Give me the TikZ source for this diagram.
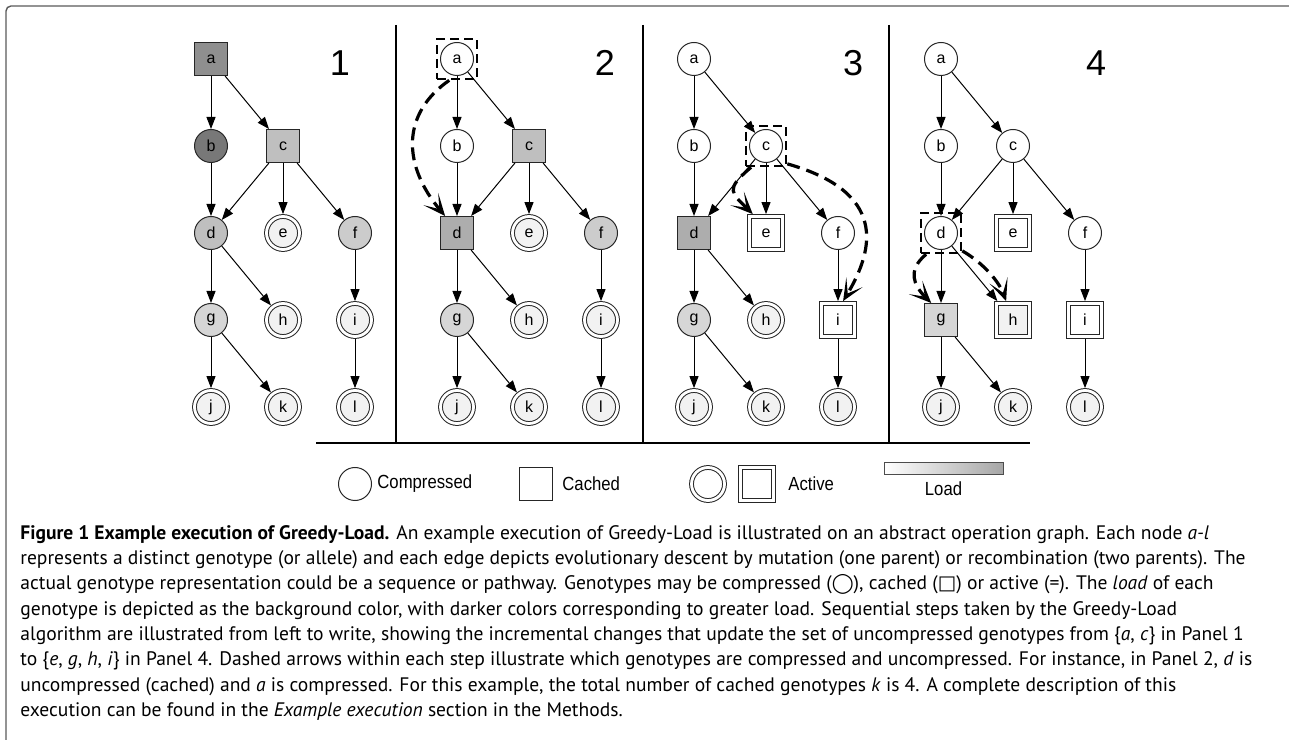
\documentclass[tikz,border=0pt]{standalone}
\usepackage{fontspec}
\setmainfont{PT Sans}
\newfontfamily\helv{Liberation Sans}
\newfontfamily\helvn[FakeStretch=0.88]{Liberation Sans}
\newfontfamily\symf{DejaVu Sans}
\usetikzlibrary{arrows.meta, positioning, calc}
\definecolor{ld1}{gray}{0.47}
\definecolor{ld2}{gray}{0.56}
\definecolor{ld3}{gray}{0.68}
\definecolor{ld4}{gray}{0.75}
\definecolor{ld5}{gray}{0.80}
\definecolor{ld6}{gray}{0.84}
\definecolor{ld7}{gray}{0.95}
\definecolor{framegray}{gray}{0.35}
\tikzset{
  nd/.style={draw=black!85, line width=0.5pt, inner sep=0pt, minimum size=16.5pt, font=\helv\fontsize{8}{9}\selectfont},
  comp/.style={nd, circle, fill=#1}, comp/.default=white,
  cach/.style={nd, rectangle, fill=#1}, cach/.default=white,
  actc/.style={comp=#1, double=white, double distance=1.4pt, outer sep=1.2pt}, actc/.default=ld7,
  acts/.style={cach=#1, double=white, double distance=1.4pt, outer sep=1.2pt}, acts/.default=white,
  link/.style={-{Triangle[length=6pt, width=4.5pt]}, line width=0.5pt},
  sel/.style={draw, dash pattern=on 4.5pt off 2.5pt, line width=1.3pt, minimum size=20pt, inner sep=0pt},
  move/.style={-{Stealth[length=11pt, width=9.5pt, inset=6.5pt]}, dash pattern=on 6.5pt off 3.5pt, line width=1.6pt},
  num/.style={font=\helv\fontsize{18}{20}\selectfont},
  lab/.style={font=\helvn\fontsize{9.5}{11}\selectfont, inner sep=0pt},
}

\begin{document}
\begin{tikzpicture}[x=0.5pt, y=0.5pt, node distance=43.5pt and 36pt, on grid]
  \useasboundingbox (0,0) rectangle (1289,739);
  \draw[framegray, line width=0.7pt, rounded corners=2.5pt] (6,-10) |- (1300,733);

  % panel rules
  \foreach \x in {396,643,889}
    \draw[line width=1pt] (\x,714) -- (\x,296);
  \draw[line width=1.4pt] (316,296) -- (1030,296);

  % panel 1
  \node[cach=ld2] (a1) at (211,680) {a};
  \node[comp=ld1, below=of a1] (b1) {b};
  \node[cach=ld4, right=of b1] (c1) {c};
  \node[comp=ld4, below=of b1] (d1) {d};
  \node[actc, right=of d1] (e1) {e};
  \node[comp=ld5, right=of e1] (f1) {f};
  \node[comp=ld6, below=of d1] (g1) {g};
  \node[actc, right=of g1] (h1) {h};
  \node[actc, right=of h1] (i1) {i};
  \node[actc, below=of g1] (j1) {j};
  \node[actc, right=of j1] (k1) {k};
  \node[actc, right=of k1] (l1) {l};
  \node[num] (n1) at (340,676) {1};

  % panel 2
  \node[comp] (a2) at (457,680) {a};
  \node[comp, below=of a2] (b2) {b};
  \node[cach=ld4, right=of b2] (c2) {c};
  \node[cach=ld3, below=of b2] (d2) {d};
  \node[actc, right=of d2] (e2) {e};
  \node[comp=ld5, right=of e2] (f2) {f};
  \node[comp=ld6, below=of d2] (g2) {g};
  \node[actc, right=of g2] (h2) {h};
  \node[actc, right=of h2] (i2) {i};
  \node[actc, below=of g2] (j2) {j};
  \node[actc, right=of j2] (k2) {k};
  \node[actc, right=of k2] (l2) {l};
  \node[num] (n2) at (605,676) {2};

  % panel 3
  \node[comp] (a3) at (694,680) {a};
  \node[comp, below=of a3] (b3) {b};
  \node[comp, right=of b3] (c3) {c};
  \node[cach=ld3, below=of b3] (d3) {d};
  \node[acts, right=of d3] (e3) {e};
  \node[comp, right=of e3] (f3) {f};
  \node[comp=ld6, below=of d3] (g3) {g};
  \node[actc, right=of g3] (h3) {h};
  \node[acts, right=of h3] (i3) {i};
  \node[actc, below=of g3] (j3) {j};
  \node[actc, right=of j3] (k3) {k};
  \node[actc, right=of k3] (l3) {l};
  \node[num] (n3) at (853,676) {3};

  % panel 4
  \node[comp] (a4) at (941,680) {a};
  \node[comp, below=of a4] (b4) {b};
  \node[comp, right=of b4] (c4) {c};
  \node[comp, below=of b4] (d4) {d};
  \node[acts, right=of d4] (e4) {e};
  \node[comp, right=of e4] (f4) {f};
  \node[cach=ld6, below=of d4] (g4) {g};
  \node[acts=ld7, right=of g4] (h4) {h};
  \node[acts, right=of h4] (i4) {i};
  \node[actc, below=of g4] (j4) {j};
  \node[actc, right=of j4] (k4) {k};
  \node[actc, right=of k4] (l4) {l};
  \node[num] (n4) at (1096,676) {4};

  \foreach \p in {1,...,4}
    \foreach \s/\t in {a/b, a/c, b/d, c/d, c/e, c/f, d/g, d/h, f/i, g/j, g/k, i/l}
      \draw[link] (\s\p) -- (\t\p);

  % selected genotype and moves
  \node[sel] (s2) at (a2) {};
  \draw[move] (s2.250) .. controls +(215:60) and +(130:65) .. (d2.125);
  \node[sel] (s3) at (c3) {};
  \draw[move] (s3.235) .. controls +(220:35) and +(135:30) .. (e3.125);
  \draw[move] (s3.320) .. controls +(99,-28) and +(32,53) .. (i3.75);
  \node[sel] (s4) at (d4) {};
  \draw[move] (s4.235) .. controls +(220:25) and +(135:25) .. (g4.120);
  \draw[move] (s4.320) .. controls +(-30:25) and +(110:20) .. (h4.110);

  % legend
  \node[comp] (lc) at (355,255) {};
  \node[lab, anchor=west] (lct) at (377,255) {Compressed};
  \node[cach] (ls) at (536,255) {};
  \node[lab, anchor=west] (lst) at (562,255) {Cached};
  \node[actc=white] (lac) at (708,255) {};
  \node[acts] (las) at (757,255) {};
  \node[lab, anchor=west] (lat) at (788,255) {Active};
  \node[draw=black!70, line width=0.5pt, minimum width=59.5pt, minimum height=6pt,
    inner sep=0pt, left color=white, right color=black!35] (lb) at (943.5,270) {};
  \node[lab] (lbt) at (943.5,250) {Load};

  % caption
  \node[anchor=north west, align=left, inner sep=0pt, font=\fontsize{9.77}{12.65}\selectfont] (cap) at (20,214) {%
    \textbf{Figure 1 Example execution of Greedy-Load.} An example execution of Greedy-Load is illustrated on an abstract operation graph. Each node \textit{a-l}\\
    represents a distinct genotype (or allele) and each edge depicts evolutionary descent by mutation (one parent) or recombination (two parents). The\\
    actual genotype representation could be a sequence or pathway. Genotypes may be compressed ({\symf ◯}), cached ({\symf □}) or active (=). The \textit{load} of each\\
    genotype is depicted as the background color, with darker colors corresponding to greater load. Sequential steps taken by the Greedy-Load\\
    algorithm are illustrated from left to write, showing the incremental changes that update the set of uncompressed genotypes from \{\textit{a}, \textit{c}\} in Panel 1\\
    to \{\textit{e}, \textit{g}, \textit{h}, \textit{i}\} in Panel 4. Dashed arrows within each step illustrate which genotypes are compressed and uncompressed. For instance, in Panel 2, \textit{d} is\\
    uncompressed (cached) and \textit{a} is compressed. For this example, the total number of cached genotypes \textit{k} is 4. A complete description of this\\
    execution can be found in the \textit{Example execution} section in the Methods.};
\end{tikzpicture}
\end{document}
